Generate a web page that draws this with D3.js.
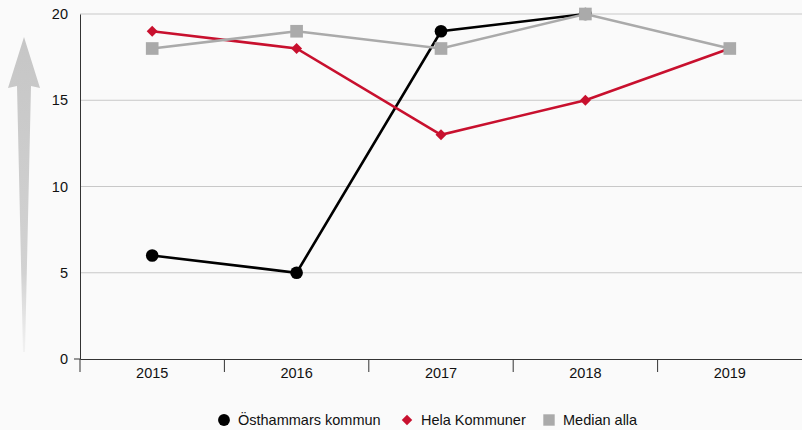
<!DOCTYPE html>
<html><head><meta charset="utf-8">
<script src="https://cdn.jsdelivr.net/npm/d3@7"></script>
<style>
body{margin:0;background:#fafafa;}
svg{display:block;font-family:"Liberation Sans",Arial,sans-serif;}
</style></head>
<body><svg id="c" width="802" height="430"></svg>
<script>
const years = ["2015","2016","2017","2018","2019"];
const osthammar = [6,5,19,20,null];
const hela = [19,18,13,15,18];
const median = [18,19,18,20,18];
const yTicks = [0,5,10,15,20];
const seriesNames = ["Östhammars kommun","Hela Kommuner","Median alla"];

(function(){
const svg = d3.select("#c");
svg.append("rect").attr("width",802).attr("height",430).attr("fill","#fafafa");
const pL=80,pR=802,pT=14,pB=359;
const FS=14.5;
const x = d3.scaleBand().domain(years).range([pL,pR]);
const y = d3.scaleLinear().domain([0,20]).range([pB,pT]);

// arrow
const defs=svg.append("defs");
const g=defs.append("linearGradient").attr("id","ag").attr("x1",0).attr("y1",0).attr("x2",0).attr("y2",1);
g.append("stop").attr("offset","0%").attr("stop-color","#c6c6c6");
g.append("stop").attr("offset","75%").attr("stop-color","#d2d2d2");
g.append("stop").attr("offset","100%").attr("stop-color","#f2f2f2");
svg.append("path").attr("d","M24,37 L40,88 L31,86 L25,352 L23,352 L17,86 L8,88 Z").attr("fill","url(#ag)");

// grid
svg.append("g").selectAll("line").data(yTicks.filter(d=>d>0)).join("line")
 .attr("x1",pL).attr("x2",pR).attr("y1",d=>y(d)).attr("y2",d=>y(d))
 .attr("stroke","#c8c8c8").attr("stroke-width",1);

// y axis
const ya=svg.append("g").attr("transform",`translate(${pL},0)`)
 .call(d3.axisLeft(y).tickValues(yTicks).tickSize(0).tickPadding(12));
ya.select(".domain").attr("stroke","#333");
ya.selectAll("text").attr("font-size",FS).attr("fill","#111").attr("font-family","Liberation Sans, Arial, sans-serif");
svg.append("line").attr("x1",pL-6).attr("x2",pL).attr("y1",pB).attr("y2",pB).attr("stroke","#333");

// x axis
const xa=svg.append("g").attr("transform",`translate(0,${pB})`)
 .call(d3.axisBottom(x).tickSize(0).tickPadding(9));
xa.select(".domain").attr("stroke","#333");
xa.selectAll("text").attr("font-size",FS).attr("fill","#111").attr("font-family","Liberation Sans, Arial, sans-serif");
const bounds=years.map(d=>x(d));
svg.append("g").selectAll("line").data(bounds).join("line")
 .attr("x1",d=>d).attr("x2",d=>d).attr("y1",pB).attr("y2",pB+13).attr("stroke","#333");

const cx=d=>x(d)+x.bandwidth()/2;
const line=d3.line().defined(d=>d!=null).x((d,i)=>cx(years[i])).y(d=>y(d));

function drawSeries(vals,color,shape,size,rot){
  svg.append("path").datum(vals).attr("d",line).attr("fill","none").attr("stroke",color).attr("stroke-width",2.6);
  svg.append("g").selectAll("path").data(vals.map((v,i)=>({v,i})).filter(d=>d.v!=null)).join("path")
   .attr("d",d3.symbol().type(shape).size(size))
   .attr("transform",d=>`translate(${cx(years[d.i])},${y(d.v)}) rotate(${rot})`)
   .attr("fill",color);
}
drawSeries(osthammar,"#000000",d3.symbolCircle,125,0);
drawSeries(hela,"#c8102e",d3.symbolSquare,60,45);
drawSeries(median,"#aaaaaa",d3.symbolSquare,160,0);

// legend
const leg=svg.append("g").attr("font-size",FS).attr("fill","#111");
const items=[{n:seriesNames[0],c:"#000",s:d3.symbolCircle,sz:110,r:0,x:224},
 {n:seriesNames[1],c:"#c8102e",s:d3.symbolSquare,sz:55,r:45,x:407},
 {n:seriesNames[2],c:"#aaaaaa",s:d3.symbolSquare,sz:130,r:0,x:549}];
items.forEach(it=>{
  leg.append("path").attr("d",d3.symbol().type(it.s).size(it.sz)).attr("transform",`translate(${it.x},420) rotate(${it.r})`).attr("fill",it.c);
  leg.append("text").attr("x",it.x+14).attr("y",425).text(it.n).attr("fill","#111");
});
})();
</script></body></html>
